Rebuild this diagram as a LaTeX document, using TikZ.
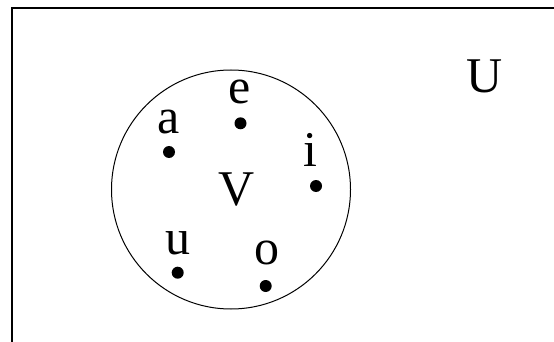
\documentclass[tikz,border=0pt]{standalone}
\usepackage{fontspec}
\setmainfont{Liberation Serif}
\begin{document}
\begin{tikzpicture}[x=1pt,y=-1pt,
  lbl/.style={anchor=base,inner sep=0pt,font=\fontsize{50}{50}\selectfont},
  elem/.style={circle,fill=black,inner sep=0pt,minimum size=12pt}]
\useasboundingbox (0,0) rectangle (554,342);
\coordinate (tl) at (12,8);
\coordinate (tr) at (560,8);
\coordinate (bl) at (12,350);
\draw[line width=1.8pt] (tr) -- (tl) -- (bl);
\node[draw,circle,line width=1pt,minimum size=239pt,inner sep=0pt] (V) at (231,189.5) {};
\node[lbl] (Vl) at (236.7,205) {V};
\node[lbl] (Ul) at (485,93) {U};
\node[elem] (a) at (169,152) {};
\node[elem] (e) at (240.5,123.3) {};
\node[elem] (i) at (316,186) {};
\node[elem] (u) at (177.7,272.7) {};
\node[elem] (o) at (265.7,286) {};
\node[lbl] (al) at (168.3,134) {a};
\node[lbl] (el) at (240,104) {e};
\node[lbl] (il) at (310,167) {i};
\node[lbl] (ul) at (178,254) {u};
\node[lbl] (ol) at (267,264) {o};
\end{tikzpicture}
\end{document}
